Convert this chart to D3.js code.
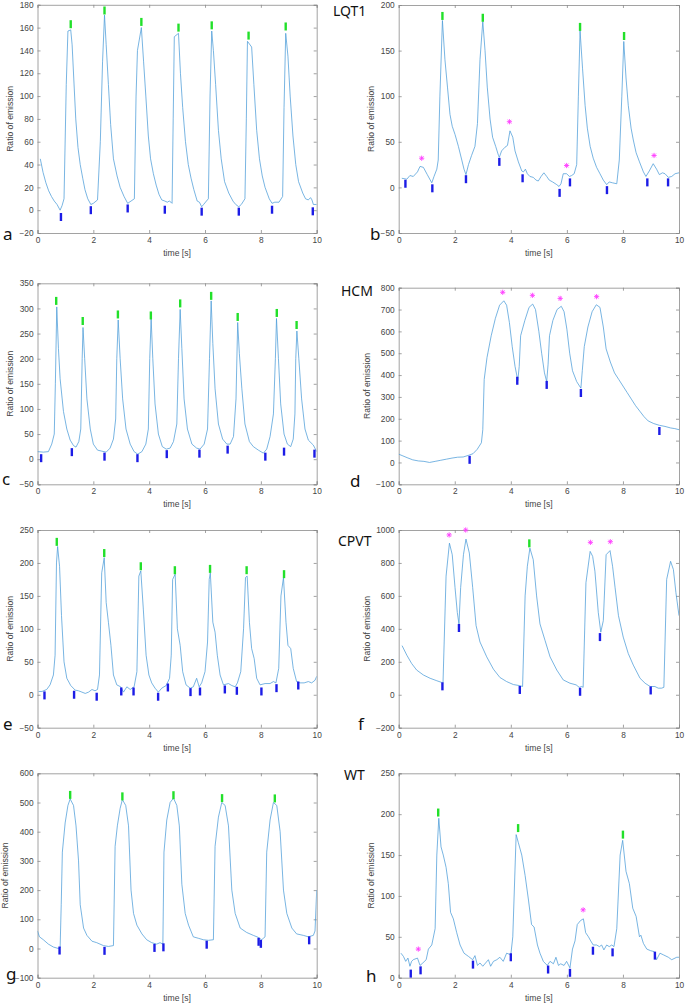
<!DOCTYPE html>
<html><head><meta charset="utf-8">
<script src="https://cdn.jsdelivr.net/npm/d3@7"></script>
<style>body{margin:0;background:#fff}svg{display:block}</style>
</head><body><svg id="chart" width="685" height="1003"></svg>
<script>
// ---------- DATA ----------
const xTicks = [0, 2, 4, 6, 8, 10];

const traceA = [[0.10,45],[0.2,33],[0.3,24],[0.4,17],[0.5,12],[0.6,8],[0.7,5],[0.81,0],[0.88,4],[0.95,10],[1.03,110],[1.09,157],[1.19,158],[1.24,145],[1.3,115],[1.37,80],[1.45,55],[1.53,40],[1.62,28],[1.7,18],[1.8,10],[1.91,5],[2.0,6],[2.15,9],[2.25,60],[2.33,130],[2.40,171],[2.46,145],[2.54,110],[2.62,75],[2.72,45],[2.85,30],[2.96,20],[3.1,12],[3.23,6],[3.35,8],[3.47,10],[3.53,100],[3.58,140],[3.72,160],[3.8,130],[3.88,100],[3.97,65],[4.05,45],[4.15,32],[4.25,22],[4.35,14],[4.45,9],[4.56,8],[4.65,7],[4.72,8],[4.78,7],[4.82,6],[4.86,80],[4.90,152],[5.05,155],[5.12,120],[5.2,90],[5.3,60],[5.4,40],[5.5,28],[5.6,18],[5.72,8],[5.8,7],[5.88,3],[5.95,5],[6.05,8],[6.12,10],[6.18,100],[6.24,157],[6.3,140],[6.38,110],[6.48,70],[6.58,45],[6.7,25],[6.85,15],[7.0,8],[7.1,5],[7.21,3],[7.3,5],[7.43,10],[7.48,80],[7.52,148],[7.67,143],[7.75,110],[7.85,70],[7.95,45],[8.05,30],[8.15,20],[8.3,10],[8.40,6],[8.5,7],[8.65,7],[8.78,12],[8.83,90],[8.89,155],[8.97,135],[9.05,100],[9.15,65],[9.25,40],[9.35,25],[9.5,15],[9.6,10],[9.7,9],[9.78,11],[9.83,9],[9.88,5],[10.0,5]];
const peaksA = [[1.19,163],[2.40,175],[3.72,165],[5.05,160],[6.24,162],[7.56,153],[8.89,161]];
const troughsA = [[0.84,-6],[1.91,0],[3.23,1.5],[4.56,0.4],[5.88,-1.3],[7.21,-1.3],[8.40,0.4],[9.86,-1]];
const starsA = [];
const yTicksA = [-20,0,20,40,60,80,100,120,140,160,180];

const traceB = [[0.11,10],[0.29,9],[0.40,13],[0.52,12],[0.67,17],[0.76,23],[0.88,22],[1.02,14],[1.18,5],[1.26,12],[1.36,20],[1.41,30],[1.47,100],[1.56,183],[1.65,140],[1.74,110],[1.83,80],[1.91,67],[2.01,58],[2.13,45],[2.25,30],[2.33,20],[2.40,14],[2.49,25],[2.60,35],[2.72,45],[2.81,70],[2.90,140],[3.00,182],[3.08,150],[3.16,110],[3.26,75],[3.35,55],[3.46,45],[3.56,35],[3.59,33],[3.67,40],[3.79,44],[3.88,46],[3.97,62],[4.07,55],[4.15,40],[4.27,28],[4.39,18],[4.45,17],[4.52,20],[4.59,15],[4.68,12],[4.80,11],[4.90,8],[4.98,7],[5.08,12],[5.18,16],[5.28,12],[5.37,8],[5.49,6],[5.64,3],[5.72,1],[5.79,4],[5.87,15],[5.99,15],[6.09,12],[6.17,13],[6.26,15],[6.35,25],[6.41,100],[6.47,172],[6.56,130],[6.65,90],[6.73,65],[6.83,45],[6.94,32],[7.06,22],[7.18,15],[7.30,8],[7.42,3],[7.51,6],[7.63,5],[7.78,4],[7.87,30],[7.96,100],[8.03,160],[8.11,120],[8.19,90],[8.29,65],[8.37,52],[8.47,38],[8.59,28],[8.73,17],[8.82,12],[8.94,18],[9.08,26],[9.20,20],[9.30,14],[9.41,16],[9.50,15],[9.62,11],[9.74,12],[9.86,15],[10,16]];
const peaksB = [[1.56,188],[3.0,186],[6.47,176],[8.04,166]];
const troughsB = [[0.24,4],[1.20,-1],[2.40,9],[3.59,28],[4.42,10],[5.74,-6],[6.11,5.5],[7.43,-3],[8.87,5.5],[9.61,5.5]];
const starsB = [[0.82,32],[3.95,72],[5.99,24],[9.11,35]];
const yTicksB = [-50,0,50,100,150,200];

const traceC = [[0,15],[0.21,14],[0.39,15],[0.51,30],[0.60,50],[0.64,150],[0.69,303],[0.75,220],[0.81,160],[0.93,95],[1.05,60],[1.17,38],[1.29,27],[1.38,24],[1.48,35],[1.55,60],[1.60,200],[1.63,262],[1.69,200],[1.77,120],[1.89,60],[2.00,30],[2.15,18],[2.30,16],[2.46,14],[2.60,22],[2.72,40],[2.80,80],[2.84,200],[2.89,277],[2.96,200],[3.05,120],[3.17,60],[3.32,30],[3.46,15],[3.59,10],[3.74,15],[3.88,30],[3.97,60],[4.02,200],[4.07,280],[4.13,200],[4.21,110],[4.33,50],[4.47,25],[4.61,20],[4.75,22],[4.87,35],[4.99,70],[5.05,200],[5.11,298],[5.17,220],[5.25,120],[5.37,60],[5.53,30],[5.70,22],[5.82,20],[5.97,30],[6.09,60],[6.16,200],[6.22,315],[6.28,230],[6.36,140],[6.48,70],[6.63,40],[6.78,30],[6.90,30],[7.02,45],[7.11,120],[7.17,272],[7.23,210],[7.32,140],[7.43,70],[7.59,35],[7.73,25],[7.91,18],[8.09,12],[8.21,20],[8.33,45],[8.45,90],[8.52,200],[8.56,280],[8.63,200],[8.71,110],[8.83,50],[8.95,30],[9.07,25],[9.16,40],[9.22,90],[9.25,200],[9.29,255],[9.36,200],[9.46,120],[9.58,60],[9.70,38],[9.88,28],[10,15]];
const peaksC = [[0.67,315],[1.62,275],[2.88,288],[4.06,286],[5.11,310],[6.22,325],[7.17,283],[8.57,291],[9.28,267]];
const troughsC = [[0.13,2],[1.23,14],[2.40,5],[3.58,2],[4.63,10],[5.80,11],[6.81,19],[8.16,5],[8.83,15],[9.92,11]];
const starsC = [];
const yTicksC = [-50,0,50,100,150,200,250,300,350];

const traceD = [[0,38],[0.15,30],[0.3,22],[0.5,12],[0.7,7],[0.9,5],[1.1,0],[1.3,5],[1.5,10],[1.7,15],[1.9,20],[2.1,24],[2.3,25],[2.5,33],[2.65,40],[2.8,60],[2.95,90],[3.0,150],[3.05,380],[3.15,480],[3.3,580],[3.45,660],[3.6,720],[3.75,740],[3.85,720],[3.95,640],[4.05,530],[4.15,440],[4.25,375],[4.3,440],[4.35,580],[4.5,650],[4.65,710],[4.78,725],[4.88,700],[5.0,600],[5.1,500],[5.2,410],[5.28,370],[5.33,450],[5.38,580],[5.5,650],[5.65,700],[5.8,715],[5.9,690],[6.0,610],[6.1,500],[6.2,420],[6.35,370],[6.5,340],[6.55,420],[6.62,530],[6.75,620],[6.9,690],[7.05,722],[7.18,710],[7.3,620],[7.4,520],[7.55,460],[7.7,410],[7.85,380],[8.0,350],[8.15,320],[8.3,290],[8.45,260],[8.6,235],[8.75,210],[8.9,190],[9.1,178],[9.3,170],[9.5,165],[9.7,158],[9.85,155],[10,150]];
const peaksD = [];
const troughsD = [[2.53,12],[4.23,374],[5.28,355],[6.50,318],[9.30,144]];
const starsD = [[3.71,779],[4.77,765],[5.76,751],[7.06,759]];
const yTicksD = [-100,0,100,200,300,400,500,600,700,800];

const traceE = [[0.04,5],[0.16,5],[0.33,8],[0.45,15],[0.57,30],[0.63,60],[0.68,200],[0.72,225],[0.79,195],[0.86,120],[0.95,50],[1.05,25],[1.19,14],[1.35,7],[1.47,6],[1.59,4],[1.71,2],[1.83,4],[1.95,8],[2.06,6],[2.15,8],[2.22,30],[2.30,185],[2.39,208],[2.46,140],[2.54,110],[2.63,75],[2.72,30],[2.84,15],[2.98,12],[3.08,4],[3.20,12],[3.32,8],[3.46,12],[3.56,35],[3.63,180],[3.70,188],[3.79,130],[3.89,60],[3.99,30],[4.09,18],[4.21,10],[4.33,4],[4.45,10],[4.61,14],[4.73,25],[4.79,60],[4.84,175],[4.93,183],[5.01,100],[5.11,75],[5.20,35],[5.32,15],[5.47,10],[5.58,12],[5.70,25],[5.79,12],[5.88,18],[6.00,35],[6.09,80],[6.15,175],[6.19,185],[6.28,110],[6.36,95],[6.44,60],[6.54,30],[6.66,15],[6.84,17],[6.96,14],[7.08,12],[7.16,18],[7.28,35],[7.38,100],[7.45,178],[7.51,180],[7.59,110],[7.67,70],[7.76,55],[7.85,25],[7.97,15],[8.15,17],[8.33,17],[8.45,20],[8.54,18],[8.64,40],[8.72,150],[8.81,178],[8.90,110],[8.97,75],[9.07,70],[9.16,40],[9.28,20],[9.40,18],[9.55,18],[9.70,20],[9.82,18],[9.94,22],[10,28]];
const peaksE = [[0.69,232],[2.39,215],[3.70,195],[4.92,189],[6.18,191],[7.49,189],[8.83,183]];
const troughsE = [[0.25,-1],[1.31,0],[2.12,-3],[3.0,5],[3.44,5],[4.32,-3],[4.67,11],[5.48,4],[5.82,5],[6.71,8],[7.14,6],[8.02,5],[8.56,10],[9.34,14]];
const starsE = [];
const yTicksE = [-50,0,50,100,150,200,250];

const traceF = [[0.12,298],[0.29,240],[0.46,190],[0.64,150],[0.88,120],[1.12,100],[1.36,85],[1.53,75],[1.58,70],[1.69,720],[1.81,920],[1.91,850],[2.01,650],[2.09,500],[2.15,430],[2.21,650],[2.31,850],[2.40,945],[2.52,860],[2.64,650],[2.76,420],[2.90,320],[3.14,230],[3.38,155],[3.61,105],[3.85,80],[4.09,62],[4.33,55],[4.42,50],[4.51,600],[4.59,780],[4.68,890],[4.80,820],[4.92,600],[5.04,430],[5.22,330],[5.40,230],[5.64,150],[5.87,90],[6.11,70],[6.33,60],[6.44,45],[6.53,50],[6.58,45],[6.68,680],[6.83,870],[6.92,840],[7.00,750],[7.12,500],[7.21,380],[7.30,450],[7.40,850],[7.54,875],[7.63,780],[7.72,650],[7.84,480],[8.01,350],[8.19,250],[8.37,180],[8.61,100],[8.79,70],[8.97,50],[9.14,50],[9.26,40],[9.38,40],[9.46,45],[9.56,700],[9.70,810],[9.80,760],[9.89,620],[10,480]];
const peaksF = [[4.66,919]];
const troughsF = [[1.56,51],[2.15,405],[4.32,29],[6.47,18],[7.18,350],[8.99,26]];
const starsF = [[1.80,970],[2.39,1000],[6.84,925],[7.55,929]];
const yTicksF = [-200,0,200,400,600,800,1000];

const traceG = [[0,60],[0.07,40],[0.21,30],[0.39,15],[0.57,5],[0.75,0],[0.81,2],[0.85,150],[0.89,330],[0.99,430],[1.09,490],[1.17,512],[1.29,490],[1.38,420],[1.47,300],[1.53,150],[1.65,70],[1.77,45],[1.95,25],[2.12,20],[2.36,10],[2.54,7],[2.72,10],[2.78,350],[2.86,420],[2.96,480],[3.04,510],[3.16,490],[3.26,420],[3.35,200],[3.44,120],[3.56,80],[3.74,50],[3.91,30],[4.09,20],[4.27,15],[4.39,20],[4.49,15],[4.53,330],[4.63,440],[4.75,500],[4.87,515],[4.99,490],[5.08,420],[5.17,220],[5.29,120],[5.41,80],[5.58,40],[5.76,35],[5.94,30],[6.12,28],[6.30,30],[6.36,350],[6.48,450],[6.60,500],[6.72,490],[6.84,420],[6.96,200],[7.08,120],[7.26,70],[7.49,55],[7.73,45],[7.91,38],[8.03,30],[8.09,35],[8.15,40],[8.21,330],[8.33,440],[8.45,500],[8.57,490],[8.69,400],[8.81,200],[8.93,120],[9.11,70],[9.28,50],[9.52,45],[9.70,40],[9.88,45],[9.94,60],[10,200]];
const peaksG = [[1.17,526],[3.04,521],[4.87,525],[6.61,515],[8.50,514]];
const troughsG = [[0.79,-7],[2.40,-8],[4.19,2],[4.51,4],[6.06,13],[7.92,23],[8.0,16],[9.73,28]];
const starsG = [];
const yTicksG = [-100,0,100,200,300,400,500,600];

const traceH = [[0.08,30],[0.17,26],[0.25,20],[0.33,24],[0.40,14],[0.46,20],[0.52,22],[0.67,24],[0.76,15],[0.86,18],[0.98,22],[1.06,35],[1.18,40],[1.30,60],[1.36,150],[1.43,195],[1.51,160],[1.59,150],[1.69,135],[1.77,115],[1.85,80],[1.95,72],[2.07,55],[2.19,40],[2.33,30],[2.49,26],[2.64,22],[2.72,27],[2.81,15],[2.90,18],[3.00,14],[3.10,18],[3.20,22],[3.28,14],[3.38,20],[3.50,22],[3.61,25],[3.73,20],[3.85,30],[4.00,28],[4.07,50],[4.19,175],[4.27,165],[4.39,150],[4.51,125],[4.63,95],[4.74,65],[4.83,62],[4.95,40],[5.04,30],[5.16,20],[5.30,15],[5.40,20],[5.52,17],[5.61,25],[5.70,15],[5.78,17],[5.90,15],[5.99,20],[6.11,12],[6.20,35],[6.29,45],[6.37,65],[6.49,70],[6.59,72],[6.67,55],[6.77,50],[6.85,45],[6.94,40],[7.06,40],[7.16,38],[7.24,40],[7.32,34],[7.42,40],[7.51,38],[7.60,40],[7.68,38],[7.78,60],[7.90,150],[7.99,168],[8.11,130],[8.23,115],[8.35,85],[8.47,75],[8.59,50],[8.64,52],[8.73,42],[8.85,35],[8.99,33],[9.11,32],[9.20,22],[9.32,30],[9.44,28],[9.62,25],[9.74,22],[9.92,25],[10,25]];
const peaksH = [[1.41,202],[4.26,183],[8.0,175]];
const troughsH = [[0.43,5],[0.78,9],[2.65,16],[4.0,25],[5.33,10],[6.11,6],[6.93,33],[7.63,31],[9.14,27]];
const starsH = [[0.70,35],[6.58,83]];
const yTicksH = [0,50,100,150,200,250];

// ---------- LAYOUT ----------
const L = [37.5, 316.7], R = [398.7, 679];
const panels = [
  {trace:traceA, peaks:peaksA, troughs:troughsA, stars:starsA, yTicks:yTicksA, xr:L, yr:[233, 4.8],  letter:'a', lx:3,   ly:240},
  {trace:traceB, peaks:peaksB, troughs:troughsB, stars:starsB, yTicks:yTicksB, xr:R, yr:[233, 5],    letter:'b', lx:370, ly:240, title:'LQT1', tx:333, ty:16},
  {trace:traceC, peaks:peaksC, troughs:troughsC, stars:starsC, yTicks:yTicksC, xr:L, yr:[484.3, 283.3], letter:'c', lx:2,  ly:485},
  {trace:traceD, peaks:peaksD, troughs:troughsD, stars:starsD, yTicks:yTicksD, xr:R, yr:[484.3, 287.7], letter:'d', lx:350, ly:487, title:'HCM', tx:341, ty:296},
  {trace:traceE, peaks:peaksE, troughs:troughsE, stars:starsE, yTicks:yTicksE, xr:L, yr:[727.7, 530], letter:'e', lx:3,   ly:730},
  {trace:traceF, peaks:peaksF, troughs:troughsF, stars:starsF, yTicks:yTicksF, xr:R, yr:[727.7, 530], letter:'f', lx:358, ly:730, title:'CPVT', tx:338, ty:546},
  {trace:traceG, peaks:peaksG, troughs:troughsG, stars:starsG, yTicks:yTicksG, xr:L, yr:[977.7, 773.3], letter:'g', lx:6, ly:980},
  {trace:traceH, peaks:peaksH, troughs:troughsH, stars:starsH, yTicks:yTicksH, xr:R, yr:[977.7, 773.3], letter:'h', lx:366, ly:982, title:'WT', tx:344, ty:780}
];

const svg = d3.select('#chart');
const FONT = '"Liberation Sans", Arial, Helvetica, sans-serif';
const TITLEFONT = '"Noto Sans", "Open Sans", sans-serif';

panels.forEach((p, i) => {
  const yDom = [p.yTicks[0], p.yTicks[p.yTicks.length - 1]];
  const x = d3.scaleLinear().domain([0, 10]).range(p.xr);
  const y = d3.scaleLinear().domain(yDom).range(p.yr);
  const g = svg.append('g');
  const left = p.xr[0], right = p.xr[1], top = p.yr[1], bottom = p.yr[0];
  const tl = 3;

  const axB = g.append('g').attr('transform', `translate(0,${bottom})`)
    .call(d3.axisBottom(x).tickValues(xTicks).tickSize(-tl).tickPadding(4).tickFormat(d3.format('d')));
  const axT = g.append('g').attr('transform', `translate(0,${top})`)
    .call(d3.axisTop(x).tickValues(xTicks).tickSize(-tl).tickFormat(''));
  const axL = g.append('g').attr('transform', `translate(${left},0)`)
    .call(d3.axisLeft(y).tickValues(p.yTicks).tickSize(-tl).tickPadding(4).tickFormat(d3.format('d')));
  const axR = g.append('g').attr('transform', `translate(${right},0)`)
    .call(d3.axisRight(y).tickValues(p.yTicks).tickSize(-tl).tickFormat(''));
  [axB, axT, axL, axR].forEach(a => {
    a.select('.domain').attr('stroke', '#8a8a8a').attr('stroke-width', 0.8);
    a.selectAll('.tick line').attr('stroke', '#8a8a8a').attr('stroke-width', 0.8);
    a.selectAll('text').attr('font-family', FONT).attr('font-size', 8.3).attr('fill', '#444');
  });
  let maxW = 0;
  axL.selectAll('text').each(function(){ maxW = Math.max(maxW, this.getBBox().width); });

  g.append('text').attr('font-family', FONT).attr('font-size', 8.6).attr('fill', '#444')
    .attr('text-anchor', 'middle')
    .attr('transform', `translate(${left - 4 - maxW - 6},${(top + bottom) / 2}) rotate(-90)`)
    .text('Ratio of emission');
  g.append('text').attr('font-family', FONT).attr('font-size', 8.6).attr('fill', '#444')
    .attr('text-anchor', 'middle').attr('x', (left + right) / 2).attr('y', bottom + 23)
    .text('time [s]');

  const cid = 'clip' + i;
  svg.append('clipPath').attr('id', cid).append('rect')
    .attr('x', left).attr('y', top).attr('width', right - left).attr('height', bottom - top);

  const line = d3.line().x(d => x(d[0])).y(d => y(d[1]));
  g.append('path').attr('clip-path', `url(#${cid})`).datum(p.trace).attr('d', line)
    .attr('fill', 'none').attr('stroke', '#4c9cd8').attr('stroke-width', 0.75).attr('stroke-linejoin', 'round');

  const mk = g.append('g');
  mk.selectAll('.pk').data(p.peaks).join('line')
    .attr('x1', d => x(d[0])).attr('x2', d => x(d[0]))
    .attr('y1', d => y(d[1]) - 4).attr('y2', d => y(d[1]) + 4)
    .attr('stroke', '#22e02a').attr('stroke-width', 2.4);
  mk.selectAll('.tr').data(p.troughs).join('line')
    .attr('x1', d => x(d[0])).attr('x2', d => x(d[0]))
    .attr('y1', d => y(d[1]) - 4).attr('y2', d => y(d[1]) + 4)
    .attr('stroke', '#1c1ce6').attr('stroke-width', 2.4);
  const s = 2.6;
  mk.selectAll('.st').data(p.stars).join('path')
    .attr('transform', d => `translate(${x(d[0])},${y(d[1])})`)
    .attr('d', `M${-s},0H${s}M0,${-s}V${s}M${-s*0.72},${-s*0.72}L${s*0.72},${s*0.72}M${-s*0.72},${s*0.72}L${s*0.72},${-s*0.72}`)
    .attr('stroke', '#ff3dff').attr('stroke-width', 0.9).attr('fill', 'none');

  svg.append('text').attr('x', p.lx).attr('y', p.ly).attr('font-family', TITLEFONT)
    .attr('font-size', 17).attr('fill', '#111').text(p.letter);
  if (p.title) {
    svg.append('text').attr('x', p.tx).attr('y', p.ty).attr('font-family', TITLEFONT)
      .attr('font-size', 14).attr('fill', '#111').text(p.title);
  }
});
</script></body></html>
